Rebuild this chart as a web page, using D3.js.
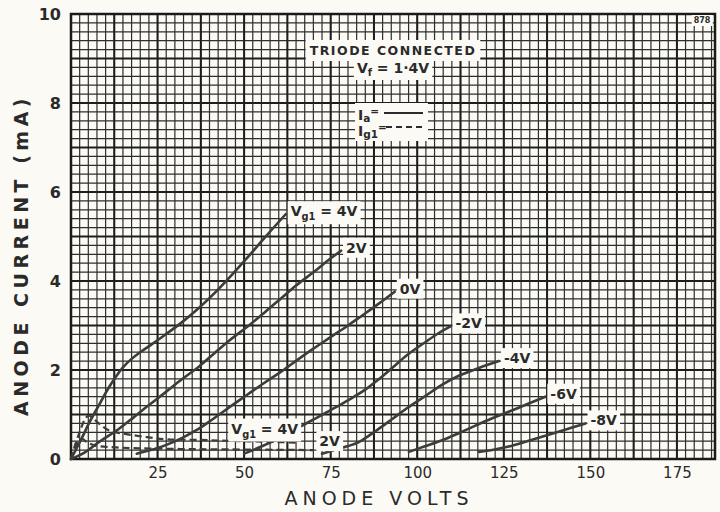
<!DOCTYPE html>
<html><head><meta charset="utf-8">
<script src="https://cdn.jsdelivr.net/npm/d3@7"></script>
<style>
html,body{margin:0;padding:0;background:#fbfaf5;}
svg{display:block;}
text{font-family:"DejaVu Sans",sans-serif;fill:#2a2a2a;}
</style></head><body>
<svg id="c" width="720" height="512"></svg>
<script>
// ---- data (anode volts, anode / grid current mA) ----
const xTicks = [25, 50, 75, 100, 125, 150, 175];
const yTicks = [0, 2, 4, 6, 8, 10];
const gridLabels = ["4V", "2V", "0V", "-2V", "-4V", "-6V", "-8V"];

const ia_4 = [[0,0],[3,0.45],[5.5,0.85],[8,1.2],[10.5,1.55],[12.7,1.82],[15,2.06],[17.5,2.25],[20,2.4],[23,2.56],[27,2.78],[32,3.07],[37,3.4],[41.6,3.74],[46,4.1],[51,4.53],[56,4.98],[62,5.5]];
const ia_2 = [[0,0],[4,0.15],[7.9,0.37],[13.7,0.67],[18,0.93],[22.3,1.2],[27,1.48],[32,1.79],[37,2.08],[41.6,2.39],[46,2.68],[51.2,2.99],[56,3.3],[60.8,3.62],[65,3.9],[70.4,4.22],[74,4.45],[78,4.68]];
const ia_0 = [[19,0.12],[23,0.2],[27,0.3],[32,0.47],[36.7,0.67],[41,0.9],[46.4,1.2],[51,1.45],[56,1.72],[61,1.98],[65.6,2.24],[70,2.48],[75,2.74],[80,3.0],[84,3.22],[88.5,3.47],[93.5,3.76]];
const ia_m2 = [[50,0.12],[55,0.28],[60.8,0.49],[65,0.68],[70.4,0.9],[75,1.1],[80,1.32],[85,1.56],[89,1.8],[92.8,2.05],[97,2.33],[102.4,2.63],[106,2.82],[109.6,2.98]];
const ia_m4 = [[72.5,0.12],[76,0.2],[80,0.29],[83.1,0.38],[88,0.63],[92.8,0.9],[97,1.14],[102.4,1.42],[107,1.66],[112,1.87],[118,2.05],[123.6,2.2]];
const ia_m6 = [[97.6,0.16],[102,0.28],[107.2,0.42],[112,0.58],[116.8,0.75],[121.5,0.91],[126.4,1.06],[132,1.24],[137,1.4]];
const ia_m8 = [[117.8,0.16],[122,0.21],[126.4,0.28],[131,0.38],[136,0.5],[142,0.64],[148.6,0.8]];

const ig_4 = [[0,0],[2,0.5],[5,0.97],[8,0.8],[11,0.64],[16,0.56],[22,0.49],[28,0.44],[37,0.43],[45,0.41],[55,0.39],[65,0.37]];
const ig_2 = [[0,0],[1.5,0.3],[3,0.45],[5,0.36],[7,0.3],[13,0.26],[20,0.24],[37,0.22],[55,0.21],[70,0.2]];

const anodeSeries = [ia_4, ia_2, ia_0, ia_m2, ia_m4, ia_m6, ia_m8];
const gridSeries = [ig_4, ig_2];
const gridSeriesLabels = ["4V", "2V"];

// ---- layout ----
const svg = d3.select("#c");
const x = d3.scaleLinear().domain([0, 186]).range([71, 715]);
const y = d3.scaleLinear().domain([0, 10]).range([459, 14]);
const ink = "#2b2b2b";

// grid
const g = svg.append("g");
const minorX = d3.range(0, 186.01, 2.5), majorX = d3.range(0, 186.01, 12.5);
const minorY = d3.range(0, 10.001, 0.2), majorY = d3.range(0, 10.001, 1);
g.selectAll(".vx").data(minorX).join("line")
  .attr("x1", d => x(d)).attr("x2", d => x(d)).attr("y1", y(0)).attr("y2", y(10))
  .attr("stroke", "#2e2e2e").attr("stroke-width", 1.2);
g.selectAll(".hy").data(minorY).join("line")
  .attr("y1", d => y(d)).attr("y2", d => y(d)).attr("x1", x(0)).attr("x2", x(186))
  .attr("stroke", "#2e2e2e").attr("stroke-width", 1.2);
g.selectAll(".vX").data(majorX).join("line")
  .attr("x1", d => x(d)).attr("x2", d => x(d)).attr("y1", y(0)).attr("y2", y(10))
  .attr("stroke", "#1e1e1e").attr("stroke-width", 2);
g.selectAll(".hY").data(majorY).join("line")
  .attr("y1", d => y(d)).attr("y2", d => y(d)).attr("x1", x(0)).attr("x2", x(186))
  .attr("stroke", "#1e1e1e").attr("stroke-width", 2);
svg.append("rect").attr("x", x(0)).attr("y", y(10)).attr("width", x(186) - x(0)).attr("height", y(0) - y(10))
  .attr("fill", "none").attr("stroke", "#1a1a1a").attr("stroke-width", 2.5);

// axes (tick labels only, the grid is the axis)
const xAxis = d3.axisBottom(x).tickValues(xTicks).tickSize(0).tickPadding(8);
const xa = svg.append("g").attr("transform", `translate(0,${y(0)})`).call(xAxis);
xa.select(".domain").remove();
xa.selectAll("text").attr("font-size", 15).attr("font-family", "DejaVu Sans").attr("fill", ink);
const yAxis = d3.axisLeft(y).tickValues(yTicks).tickSize(0).tickPadding(10);
const ya = svg.append("g").attr("transform", `translate(${x(0)},0)`).call(yAxis);
ya.select(".domain").remove();
ya.selectAll("text").attr("font-size", 16).attr("font-weight", "bold").attr("font-family", "DejaVu Sans").attr("fill", ink);

// axis titles
svg.append("text").attr("x", 379).attr("y", 505).attr("text-anchor", "middle")
  .attr("font-size", 19).attr("letter-spacing", 5).attr("fill", ink).text("ANODE  VOLTS");
svg.append("text").attr("transform", "translate(28,255) rotate(-90)").attr("text-anchor", "middle")
  .attr("font-size", 19).attr("font-weight", "bold").attr("letter-spacing", 4.5).attr("fill", ink).text("ANODE  CURRENT (mA)");

// curves
const line = d3.line().x(d => x(d[0])).y(d => y(d[1])).curve(d3.curveCatmullRom.alpha(0.5));
const cg = svg.append("g");
cg.selectAll(".ia").data(anodeSeries).join("path")
  .attr("d", line).attr("fill", "none").attr("stroke", "#3c3c3c").attr("stroke-width", 2.6)
  .attr("stroke-linecap", "round");
cg.selectAll(".ig").data(gridSeries).join("path")
  .attr("d", line).attr("fill", "none").attr("stroke", "#3c3c3c").attr("stroke-width", 2.2)
  .attr("stroke-dasharray", "7,4");

// helper: text with white box
function boxed(px, py, anchor, size, build, pad) {
  pad = pad || [3, 2];
  const grp = svg.append("g");
  const t = grp.append("text").attr("x", px).attr("y", py).attr("text-anchor", anchor)
    .attr("font-size", size).attr("font-weight", "bold").attr("fill", ink);
  build(t);
  const b = t.node().getBBox();
  grp.insert("rect", "text").attr("x", b.x - pad[0]).attr("y", b.y - pad[1])
    .attr("width", b.width + 2 * pad[0]).attr("height", b.height + 2 * pad[1]).attr("fill", "#fbfaf5");
  return grp;
}
function vgLabel(t, v) {
  t.append("tspan").text("V");
  t.append("tspan").attr("font-size", "0.7em").attr("dy", 4).text("g1");
  t.append("tspan").attr("dy", -4).text(" = " + v);
}

// anode curve labels at curve ends
anodeSeries.forEach((s, i) => {
  const e = s[s.length - 1];
  boxed(x(e[0]) + 5, y(e[1]) + 2, "start", 14, t => {
    if (i === 0) vgLabel(t, gridLabels[i]); else t.text(gridLabels[i]);
  });
});
// grid-current curve labels
{
  const e = ig_4[ig_4.length - 1];
  boxed(x(e[0]) + 2, y(e[1]) - 9, "end", 14, t => vgLabel(t, gridSeriesLabels[0]));
  const f = ig_2[ig_2.length - 1];
  boxed(x(f[0]) + 6, y(f[1]) - 4, "start", 14, t => t.text(gridSeriesLabels[1]));
}

// header notes
boxed(393, 55, "middle", 12.5, t => t.attr("letter-spacing", 1.5).text("TRIODE CONNECTED"), [4, 3]);
boxed(393, 73, "middle", 14, t => {
  t.append("tspan").text("V");
  t.append("tspan").attr("font-size", "0.7em").attr("dy", 3).text("f");
  t.append("tspan").attr("dy", -3).text(" = 1·4V");
}, [3, 2]);

// legend
svg.append("rect").attr("x", 355).attr("y", 103).attr("width", 73).attr("height", 38).attr("fill", "#fbfaf5");
const lg = svg.append("g");
const la = lg.append("text").attr("x", 358).attr("y", 120).attr("font-size", 14).attr("font-weight", "bold").attr("fill", ink);
la.append("tspan").text("I"); la.append("tspan").attr("font-size", "0.75em").attr("dy", 2).text("a");
la.append("tspan").attr("font-size", "0.75em").attr("dy", -7).text("=");
const lb = lg.append("text").attr("x", 358).attr("y", 136).attr("font-size", 14).attr("font-weight", "bold").attr("fill", ink);
lb.append("tspan").text("I"); lb.append("tspan").attr("font-size", "0.75em").attr("dy", 2).text("g1");
lb.append("tspan").attr("font-size", "0.75em").attr("dy", -7).text("=");
lg.append("line").attr("x1", 384).attr("x2", 423).attr("y1", 113).attr("y2", 113).attr("stroke", ink).attr("stroke-width", 2);
lg.append("line").attr("x1", 386).attr("x2", 425).attr("y1", 127).attr("y2", 127).attr("stroke", ink).attr("stroke-width", 2).attr("stroke-dasharray", "6,4");

// reference number
boxed(702, 23, "middle", 8, t => t.text("878"), [2, 1]);
</script>
</body></html>
